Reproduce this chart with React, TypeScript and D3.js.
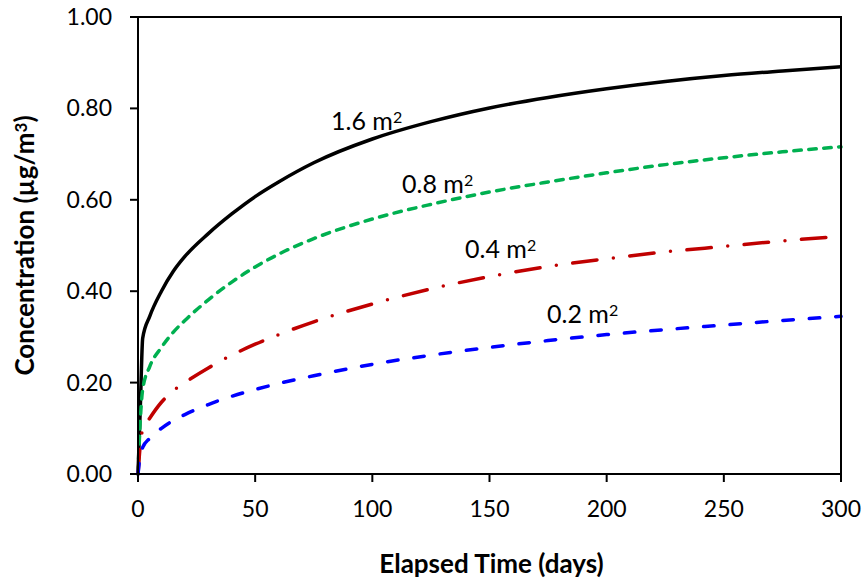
import React from "react";
import * as d3 from "d3";

const times = [0, 1, 2, 5, 10, 15, 20, 30, 40, 50, 60, 75, 100, 125, 150, 175, 200, 225, 250, 275, 300];
const area16 = [0, 0.148, 0.297, 0.345, 0.40, 0.443, 0.476, 0.526, 0.569, 0.607, 0.639, 0.681, 0.733, 0.771, 0.801, 0.824, 0.843, 0.859, 0.872, 0.882, 0.891];
const area08 = [0, 0.12, 0.185, 0.235, 0.277, 0.31, 0.336, 0.381, 0.42, 0.453, 0.481, 0.515, 0.558, 0.59, 0.617, 0.639, 0.659, 0.677, 0.692, 0.705, 0.716];
const area04 = [0, 0.065, 0.097, 0.122, 0.157, 0.182, 0.20, 0.232, 0.26, 0.284, 0.305, 0.333, 0.372, 0.405, 0.432, 0.454, 0.471, 0.486, 0.498, 0.51, 0.52];
const area02 = [0, 0.042, 0.058, 0.078, 0.10, 0.117, 0.13, 0.152, 0.17, 0.185, 0.198, 0.215, 0.24, 0.26, 0.277, 0.292, 0.305, 0.316, 0.326, 0.336, 0.345];

const seriesNames = ["1.6 m", "0.8 m", "0.4 m", "0.2 m"];
const seriesValues = [area16, area08, area04, area02];
const seriesColors = ["#000000", "#00b050", "#c00000", "#0000ff"];
const seriesDash = [null, "7.5 7.5", "24.5 16.5 0 16.5", "10.5 16"];
const labelPos = [[331, 130], [402, 193], [465, 258], [547, 323]];

const xTicks = [0, 50, 100, 150, 200, 250, 300];
const yTicks = [0, 0.2, 0.4, 0.6, 0.8, 1.0];

const FONT = "Lato, 'Open Sans', sans-serif";

export default function App() {
  const W = 865, H = 584;
  const left = 138, right = 841, top = 17, bottom = 474;
  const x = d3.scaleLinear().domain([0, 300]).range([left, right]);
  const y = d3.scaleLinear().domain([0, 1]).range([bottom, top]);
  const line = d3
    .line<[number, number]>()
    .x((d) => x(d[0]))
    .y((d) => y(d[1]))
    .curve(d3.curveMonotoneX);

  return (
    <svg width={W} height={H} style={{ position: "absolute", left: 0, top: 0, background: "#fff" }} fontFamily={FONT}>
      <rect x={0} y={0} width={W} height={H} fill="#fff" />
      {seriesValues.map((vals, i) => (
        <path
          key={i}
          d={line(times.map((t, j) => [t, vals[j]] as [number, number])) || ""}
          fill="none"
          stroke={seriesColors[i]}
          strokeWidth={3.5}
          strokeLinecap={i === 0 ? "butt" : "round"}
          strokeLinejoin="round"
          strokeDasharray={seriesDash[i] || undefined}
        />
      ))}
      <rect x={left} y={top} width={right - left} height={bottom - top} fill="none" stroke="#000" strokeWidth={2} />
      {yTicks.map((v) => (
        <g key={"y" + v}>
          <line x1={left - 8} x2={left} y1={y(v)} y2={y(v)} stroke="#000" strokeWidth={2} />
          <text x={112} y={y(v) + 8} textAnchor="end" fontSize={23} fill="#000">
            {d3.format(".2f")(v)}
          </text>
        </g>
      ))}
      {xTicks.map((t) => (
        <g key={"x" + t}>
          <line x1={x(t)} x2={x(t)} y1={bottom} y2={bottom + 8} stroke="#000" strokeWidth={2} />
          <text x={x(t)} y={517} textAnchor="middle" fontSize={23} fill="#000">
            {t}
          </text>
        </g>
      ))}
      {seriesNames.map((n, i) => (
        <text key={n} x={labelPos[i][0]} y={labelPos[i][1]} fontSize={25} fill="#000">
          {n}
          <tspan fontSize={16} dy={-6.7}>2</tspan>
        </text>
      ))}
      <text x={(left + right) / 2 + 2} y={573} textAnchor="middle" fontSize={26} fontWeight="bold" fill="#000">
        Elapsed Time (days)
      </text>
      <text
        transform={`translate(34, ${(top + bottom) / 2}) rotate(-90)`}
        textAnchor="middle"
        fontSize={26}
        fontWeight="bold"
        fill="#000"
      >
        Concentration (µg/m<tspan fontSize={17} dy={-7}>3</tspan><tspan dy={7}>)</tspan>
      </text>
    </svg>
  );
}
